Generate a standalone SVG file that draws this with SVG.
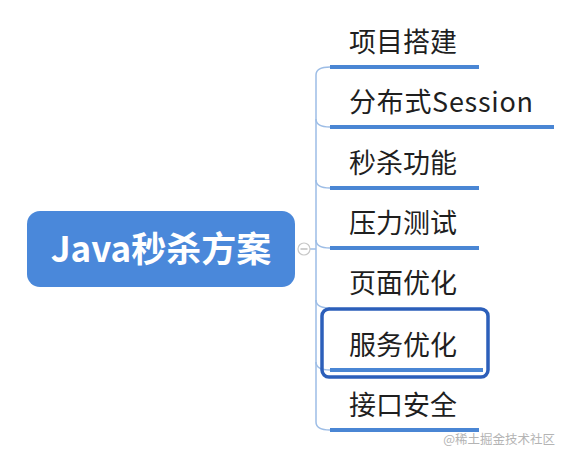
<svg xmlns="http://www.w3.org/2000/svg" width="561" height="449" viewBox="0 0 561 449">
<style>
.br{fill:#1f1f1f;font-family:"Noto Sans CJK SC","Noto Sans",sans-serif;font-size:27px}
.ul{stroke:#4a86d4;stroke-width:4;fill:none}
.tr{stroke:#9dbde6;stroke-width:1.5;fill:none}
</style>
<rect width="561" height="449" fill="#ffffff"/>
<g id="connectors">
<path class="tr" d="M310,249 H316"/>
<path class="tr" d="M330,67 Q316,67 316,75 V422 Q316,430 330,430"/>
<path class="tr" d="M316,119 Q316,127 330,127"/>
<path class="tr" d="M316,180 Q316,188 330,188"/>
<path class="tr" d="M316,240 Q316,248 330,248"/>
<path class="tr" d="M316,300 Q316,308 330,308"/>
<path class="tr" d="M316,362 Q316,370 330,370"/>
</g>
<g id="root">
<rect x="27" y="211" width="268" height="76" rx="13" fill="#4a88da"/>
<text x="161" y="262" text-anchor="middle" fill="#ffffff" font-family="'Noto Sans CJK SC','Noto Sans',sans-serif" font-size="35" font-weight="bold">Java秒杀方案</text>
<circle cx="304" cy="249" r="6" fill="#ffffff" stroke="#c8c8c8" stroke-width="1.2"/>
<path d="M300.5,249 H307.5" stroke="#b0b0b0" stroke-width="1.2"/>
</g>
<g id="n1"><text class="br" x="349" y="52">项目搭建</text><path class="ul" d="M330,67 H479"/></g>
<g id="n2"><text class="br" x="349" y="112" textLength="184">分布式Session</text><path class="ul" d="M330,127 H554"/></g>
<g id="n3"><text class="br" x="349" y="173">秒杀功能</text><path class="ul" d="M330,188 H479"/></g>
<g id="n4"><text class="br" x="349" y="233">压力测试</text><path class="ul" d="M330,248 H479"/></g>
<g id="n5"><text class="br" x="349" y="293">页面优化</text></g>
<g id="n6"><path class="ul" d="M330,370 H483"/><rect x="322" y="309" width="166" height="68" rx="7" fill="none" stroke="#2c5fba" stroke-width="3.5"/><text class="br" x="349" y="355">服务优化</text></g>
<g id="n7"><text class="br" x="349" y="415">接口安全</text><path class="ul" d="M330,430 H479"/></g>
<text x="555" y="444" text-anchor="end" fill="#b4b4b4" font-family="'Noto Sans CJK SC',sans-serif" font-size="12.5">@稀土掘金技术社区</text>
</svg>
